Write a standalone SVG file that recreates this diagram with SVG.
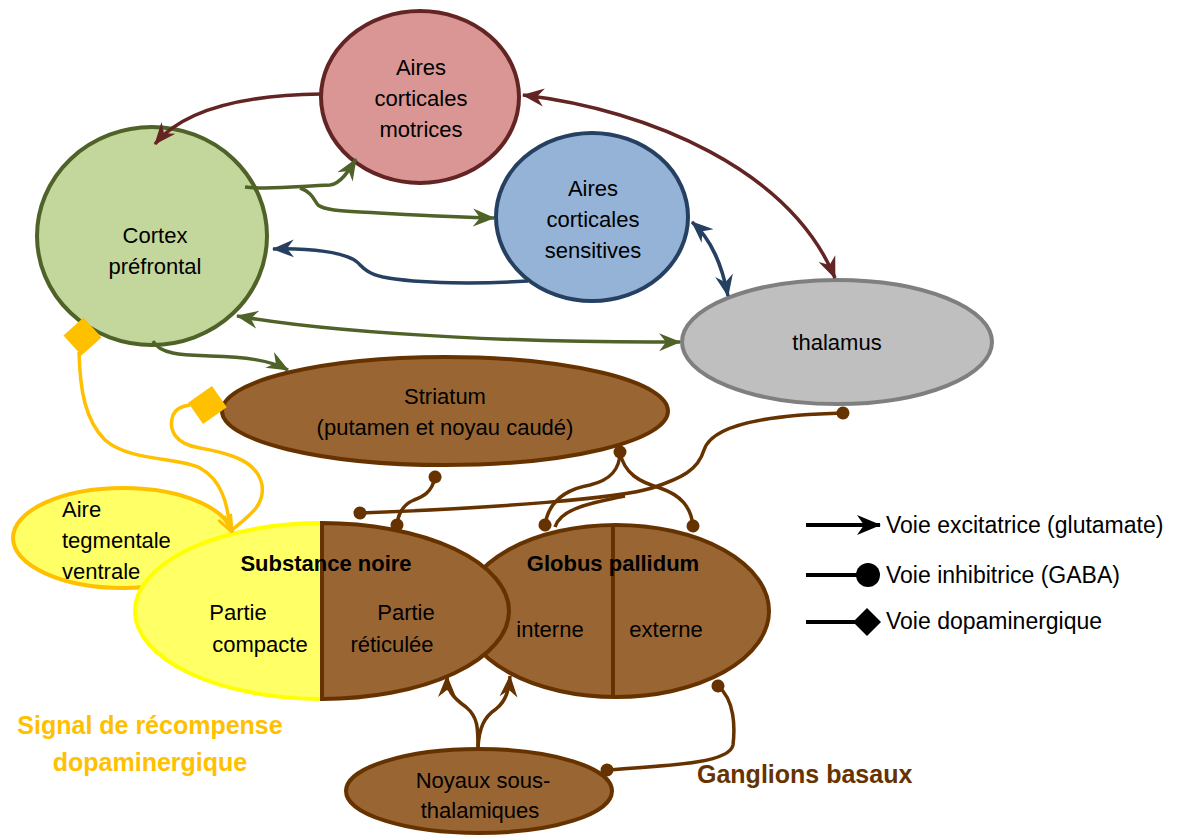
<svg xmlns="http://www.w3.org/2000/svg" width="1185" height="836" viewBox="0 0 1185 836">
<defs>
<style>
text{font-family:"Liberation Sans",Arial,sans-serif;font-size:22px;fill:#000;text-anchor:middle}
.b{font-weight:bold}
.l{text-anchor:start}
.lg{font-size:23px}
.conn path{fill:none;stroke-width:3.5}
.red{stroke:#632523}
.grn{stroke:#4F6228}
.blu{stroke:#254061}
.brn{stroke:#663300}
.org{stroke:#FFC000}
.node{stroke-width:4}
</style>
<marker id="aR" markerUnits="userSpaceOnUse" markerWidth="22" markerHeight="20" viewBox="0 0 22 20" refX="21" refY="10" orient="auto-start-reverse"><path d="M0,1 L22,10 L0,19 L7,10 z" fill="#632523"/></marker>
<marker id="aG" markerUnits="userSpaceOnUse" markerWidth="22" markerHeight="20" viewBox="0 0 22 20" refX="21" refY="10" orient="auto-start-reverse"><path d="M0,1 L22,10 L0,19 L7,10 z" fill="#4F6228"/></marker>
<marker id="aB" markerUnits="userSpaceOnUse" markerWidth="22" markerHeight="20" viewBox="0 0 22 20" refX="21" refY="10" orient="auto-start-reverse"><path d="M0,1 L22,10 L0,19 L7,10 z" fill="#254061"/></marker>
<marker id="aN" markerUnits="userSpaceOnUse" markerWidth="22" markerHeight="20" viewBox="0 0 22 20" refX="21" refY="10" orient="auto-start-reverse"><path d="M0,1 L22,10 L0,19 L7,10 z" fill="#663300"/></marker>
<marker id="aK" markerUnits="userSpaceOnUse" markerWidth="24" markerHeight="22" viewBox="0 0 24 22" refX="23" refY="11" orient="auto"><path d="M0,1 L24,11 L0,21 L7,11 z" fill="#000"/></marker>
<marker id="dN" markerUnits="userSpaceOnUse" markerWidth="14" markerHeight="14" viewBox="0 0 14 14" refX="7" refY="7" orient="auto"><circle cx="7" cy="7" r="6.5" fill="#663300"/></marker>
<marker id="aO" markerUnits="userSpaceOnUse" markerWidth="18" markerHeight="16" viewBox="0 0 18 16" refX="17" refY="8" orient="auto"><path d="M0,1 L17,8 L0,15" fill="none" stroke="#FFC000" stroke-width="3"/></marker>
</defs>
<rect width="1185" height="836" fill="#fff"/>

<g id="n-gp">
<ellipse class="node" cx="616" cy="611" rx="153" ry="86" fill="#996633" stroke="#663300"/>
<line x1="613" y1="525" x2="613" y2="697" stroke="#663300" stroke-width="4"/>
</g>
<g id="n-vta">
<ellipse class="node" cx="123" cy="538" rx="110" ry="50" fill="#FFFF66" stroke="#FFC000"/>
<text class="l" x="62" y="517">Aire</text>
<text class="l" x="62" y="548">tegmentale</text>
<text class="l" x="62" y="579">ventrale</text>
</g>
<g id="n-sn">
<path d="M322,523 A187,88 0 0 0 322,699 Z" fill="#FFFF66" stroke="#FFFF00" stroke-width="4"/>
<path d="M322,523 A187,88 0 0 1 322,699 Z" fill="#996633" stroke="#663300" stroke-width="4"/>
<text class="b" x="326" y="571">Substance noire</text>
<text x="238" y="620">Partie</text>
<text x="260" y="652">compacte</text>
<text x="406" y="620">Partie</text>
<text x="392" y="652">réticulée</text>
</g>
<g id="gp-labels">
<text class="b" x="613" y="571">Globus pallidum</text>
<text x="550" y="637">interne</text>
<text x="666" y="637">externe</text>
</g>

<g id="n-motrices">
<ellipse class="node" cx="420" cy="97" rx="99" ry="86" fill="#D99694" stroke="#632523"/>
<text x="421" y="75">Aires</text>
<text x="421" y="106">corticales</text>
<text x="421" y="137">motrices</text>
</g>
<g id="n-cortex">
<ellipse class="node" cx="152" cy="236" rx="115" ry="109" fill="#C3D69B" stroke="#4F6228"/>
<text x="155" y="243">Cortex</text>
<text x="155" y="274">préfrontal</text>
</g>
<g id="n-sensitives">
<ellipse class="node" cx="592" cy="217" rx="96" ry="84" fill="#95B3D7" stroke="#254061"/>
<text x="593" y="196">Aires</text>
<text x="593" y="227">corticales</text>
<text x="593" y="258">sensitives</text>
</g>
<g id="n-thalamus">
<ellipse class="node" cx="837" cy="342" rx="155" ry="62" fill="#BFBFBF" stroke="#7F7F7F"/>
<text x="837" y="350">thalamus</text>
</g>
<g id="n-striatum">
<ellipse class="node" cx="445" cy="411" rx="223" ry="54" fill="#996633" stroke="#663300"/>
<text x="445" y="404">Striatum</text>
<text x="445" y="435">(putamen et noyau caudé)</text>
</g>
<g id="n-nst">
<ellipse class="node" cx="479" cy="791" rx="133" ry="42" fill="#996633" stroke="#663300"/>
<text x="483" y="788">Noyaux sous-</text>
<text x="480" y="818">thalamiques</text>
</g>

<g id="connectors" class="conn">
<path class="red" d="M321,94 C250,95 185,108 155,144" marker-end="url(#aR)"/>
<path class="red" d="M523,95 C650,110 790,170 835,278" marker-start="url(#aR)" marker-end="url(#aR)"/>
<path class="grn" d="M245,187 C270,190 300,186 330,185 C340,184 348,172 356,159" marker-end="url(#aG)"/>
<path class="grn" d="M300,188 C312,192 314,200 318,205 C325,210 340,211 360,212 C400,214 450,217 494,218" marker-end="url(#aG)"/>
<path class="blu" d="M528,281 C480,284 420,284 383,277 C365,273 362,266 357,262 C345,252 310,248 273,249" marker-end="url(#aB)"/>
<path class="blu" d="M692,222 C712,240 722,265 728,296" marker-start="url(#aB)" marker-end="url(#aB)"/>
<path class="grn" d="M237,316 C350,336 550,343 680,342" marker-start="url(#aG)" marker-end="url(#aG)"/>
<path class="grn" d="M153,341 C160,355 185,355 210,356 C245,357 270,360 288,370" marker-end="url(#aG)"/>

<path class="org" d="M230,530 C228,505 222,480 200,468 C180,457 130,462 105,440 C85,420 80,390 79,352"/>
<path class="org" d="M232,530 C250,515 265,505 262,485 C258,465 240,455 200,448 C175,444 168,430 173,415 C176,408 182,406 190,405"/>
<path class="org" d="M224,516 L232,532" marker-end="url(#aO)"/>

<path class="brn" d="M435,477 C432,493 422,497 414,500 C402,505 398,514 397,525" marker-start="url(#dN)" marker-end="url(#dN)"/>
<path class="brn" d="M843,413 C765,415 712,425 704,450 C698,470 682,478 652,488 C620,498 500,508 360,513" marker-start="url(#dN)" marker-end="url(#dN)"/>
<path class="brn" d="M555,527 C560,512 578,505 625,496"/>
<path class="brn" d="M620,452 C620,470 610,480 590,485 C562,490 548,505 545,525" marker-start="url(#dN)" marker-end="url(#dN)"/>
<path class="brn" d="M620,452 C624,474 640,482 660,488 C680,495 691,506 693,526" marker-end="url(#dN)"/>
<path class="brn" d="M478,748 C478,728 478,717 466,707 C452,697 447,690 447,676" marker-end="url(#aN)"/>
<path class="brn" d="M478,748 C479,728 484,717 496,709 C506,701 509,690 510,676" marker-end="url(#aN)"/>
<path class="brn" d="M718,686 C735,700 735,728 733,745 C730,762 680,765 607,770" marker-start="url(#dN)" marker-end="url(#dN)"/>
</g>

<g id="dopa-terminals" fill="#FFC000">
<rect x="69" y="323" width="27" height="27" transform="rotate(48 82.5 336.5)"/>
<rect x="193" y="392" width="29" height="26" transform="rotate(-35 207.5 405)"/>
</g>

<g id="legend">
<line x1="806" y1="525" x2="880" y2="525" stroke="#000" stroke-width="4" marker-end="url(#aK)"/>
<text class="l lg" x="886" y="533">Voie excitatrice (glutamate)</text>
<line x1="806" y1="575" x2="860" y2="575" stroke="#000" stroke-width="4"/>
<circle cx="868" cy="575" r="12" fill="#000"/>
<text class="l lg" x="886" y="583">Voie inhibitrice (GABA)</text>
<line x1="806" y1="622" x2="856" y2="622" stroke="#000" stroke-width="4"/>
<polygon points="867,608 881,622 867,636 853,622" fill="#000"/>
<text class="l lg" x="886" y="629">Voie dopaminergique</text>
</g>

<g id="titles">
<text class="b" x="150" y="734" style="font-size:25px;fill:#FFC000">Signal de récompense</text>
<text class="b" x="150" y="771" style="font-size:25px;fill:#FFC000">dopaminergique</text>
<text class="b l" x="697" y="783" style="font-size:25px;fill:#663300">Ganglions basaux</text>
</g>
</svg>
